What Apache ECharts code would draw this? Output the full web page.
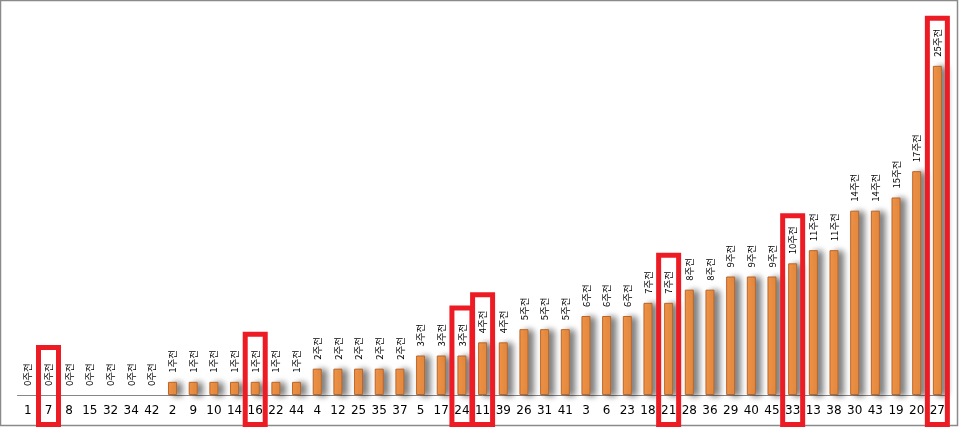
<!DOCTYPE html>
<html>
<head>
<meta charset="utf-8">
<script src="https://cdn.jsdelivr.net/npm/echarts@6/dist/echarts.min.js"></script>
<style>
  html, body { margin: 0; padding: 0; background: #fff; }
  #chart { width: 961px; height: 427px; }
</style>
</head>
<body>
<div id="chart"></div>
<script>
// 번호별 미출현 주 수 (몇 주 전에 마지막으로 나왔는지)
const numbers = ['1', '7', '8', '15', '32', '34', '42', '2', '9', '10', '14', '16', '22', '44',
    '4', '12', '25', '35', '37', '5', '17', '24', '11', '39', '26', '31', '41', '3', '6', '23',
    '18', '21', '28', '36', '29', '40', '45', '33', '13', '38', '30', '43', '19', '20', '27'];
const weeksAgo = [0, 0, 0, 0, 0, 0, 0, 1, 1, 1, 1, 1, 1, 1,
    2, 2, 2, 2, 2, 3, 3, 3, 4, 4, 5, 5, 5, 6, 6, 6,
    7, 7, 8, 8, 9, 9, 9, 10, 11, 11, 14, 14, 15, 17, 25];
// 빨간 박스로 표시된 번호
const highlighted = ['7', '16', '24', '11', '21', '33', '27'];

document.addEventListener("DOMContentLoaded", function () {
    const el = document.getElementById("chart");
    const chart = echarts.init(el);

    // 0주전은 막대 없이 라벨만
    const barData = weeksAgo.map(v => v === 0
        ? { value: v, itemStyle: { color: 'rgba(0,0,0,0)', borderWidth: 0, shadowColor: 'rgba(0,0,0,0)' } }
        : v);

    const boxData = highlighted.map(n => {
        const i = numbers.indexOf(n);
        return [i, weeksAgo[i]];
    });

    chart.setOption({
        animation: false,
        grid: { left: 17.5, right: 13.3, top: 0, bottom: 32 },
        graphic: [{
            type: 'rect',
            shape: { x: 0.5, y: 0.5, width: 957, height: 425 },
            style: { fill: 'none', stroke: '#8a8a8a', lineWidth: 1.5 },
            z: 0
        }],
        xAxis: {
            type: 'category',
            data: numbers,
            axisLine: { lineStyle: { color: '#868686', width: 1 } },
            axisTick: { length: 5, lineStyle: { color: '#868686' } },
            axisLabel: {
                interval: 0, margin: 10, color: '#000',
                fontFamily: 'DejaVu Sans', fontSize: 12
            }
        },
        yAxis: { type: 'value', min: 0, max: 30, show: false, splitLine: { show: false } },
        series: [{
            type: 'bar',
            data: barData,
            barWidth: 9,
            itemStyle: {
                color: '#F79646',
                borderColor: '#B9652A',
                borderWidth: 1,
                shadowColor: 'rgba(0,0,0,0.55)',
                shadowBlur: 6,
                shadowOffsetX: 5,
                shadowOffsetY: 1
            },
            label: {
                show: true,
                position: 'top',
                rotate: 90,
                align: 'left',
                verticalAlign: 'middle',
                distance: 9,
                color: '#000',
                fontFamily: 'Noto Sans CJK KR',
                fontSize: 9.5,
                formatter: p => p.value + '주전'
            }
        }, {
            type: 'custom',
            z: 10,
            silent: true,
            data: boxData,
            renderItem: function (params, api) {
                const top = api.coord([api.value(0), api.value(1)]);
                const x = top[0];
                const y0 = top[1] - 50 + 2.5;
                return {
                    type: 'rect',
                    shape: { x: x - 10, y: y0, width: 20, height: 424.5 - y0 },
                    style: { fill: 'none', stroke: '#ED1C24', lineWidth: 5 }
                };
            }
        }]
    });
    window.addEventListener('resize', () => chart.resize());
});
</script>
</body>
</html>
